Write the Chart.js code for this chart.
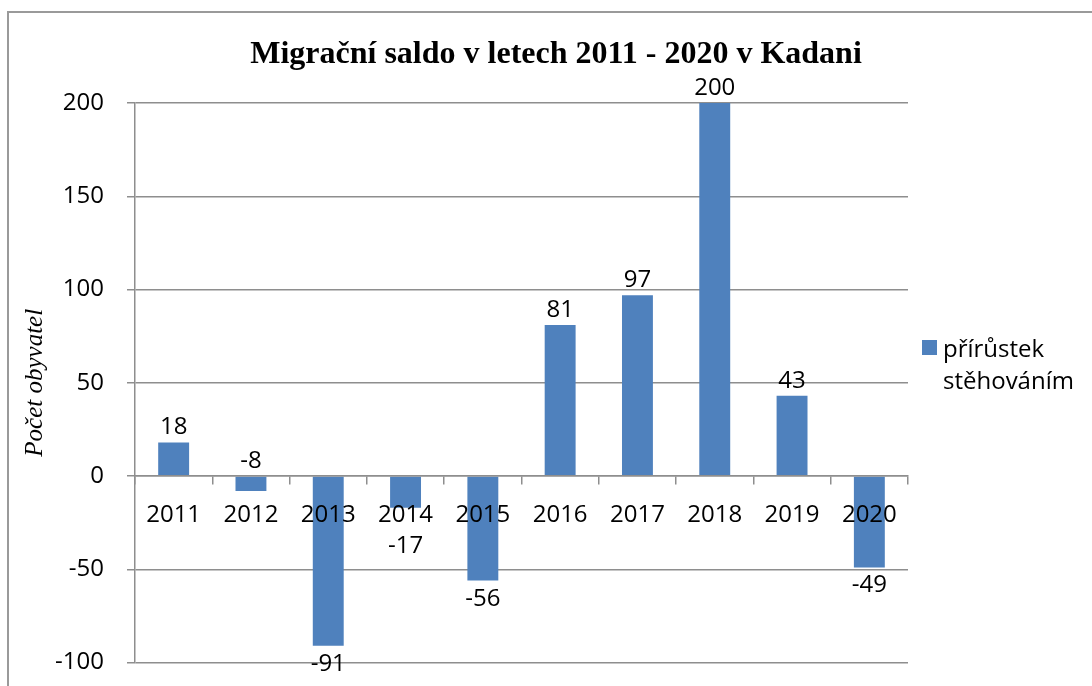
<!DOCTYPE html>
<html>
<head>
<meta charset="utf-8">
<script src="https://cdn.jsdelivr.net/npm/chart.js@4/dist/chart.umd.min.js"></script>
<style>
  html, body { margin: 0; padding: 0; background: #fff; overflow: hidden; }
  #wrap { position: relative; width: 1092px; height: 686px; overflow: hidden; }
  #frame { position: absolute; left: 7px; top: 11px; width: 1120px; height: 720px; border: 2px solid #9a9a9a; box-sizing: border-box; }
  #chart { position: absolute; left: 0; top: 0; }
  #title { position: absolute; left: 556px; top: 36px; transform: translateX(-50%); white-space: nowrap;
           font: bold 32px/32px "Liberation Serif", "Times New Roman", serif; color: #000; }
  #legend { position: absolute; left: 922px; top: 332px; font: 24px/32px "Open Sans", sans-serif; color: #000; }
  #legend .box { position: absolute; left: 0; top: 8px; width: 15px; height: 15px; background: #4f81bd; }
  #legend .txt { margin-left: 21px; }
</style>
</head>
<body>
<div id="wrap">
  <div id="frame"></div>
  <canvas id="chart" width="1092" height="700"></canvas>
  <div id="title">Migrační saldo v letech 2011 - 2020 v Kadani</div>
  <div id="legend"><span class="box"></span><div class="txt">přírůstek<br>stěhováním</div></div>
</div>
<script>
'use strict';

/* --------------------------------------------------------------------------
   DATA
   -------------------------------------------------------------------------- */
const years = ['2011', '2012', '2013', '2014', '2015', '2016', '2017', '2018', '2019', '2020'];
const saldo = [18, -8, -91, -17, -56, 81, 97, 200, 43, -49];
const seriesName = 'přírůstek stěhováním';
const axisTitle = 'Počet obyvatel';

const BLUE = '#4f81bd';
const GRID = '#8e8e8e';
const SANS = '"Open Sans", sans-serif';

Chart.defaults.color = '#000';

/* --------------------------------------------------------------------------
   VALUE LABELS — above positive bars, below negative ones
   -------------------------------------------------------------------------- */
const barLabels = {
    id: 'barLabels',
    afterDatasetsDraw(chart) {
        const { ctx } = chart;
        const y = chart.scales.y;
        const zero = y.getPixelForValue(0);
        const meta = chart.getDatasetMeta(0);
        ctx.save();
        ctx.font = '24px ' + SANS;
        ctx.fillStyle = '#000';
        ctx.textAlign = 'center';
        ctx.textBaseline = 'alphabetic';
        meta.data.forEach((bar, i) => {
            const v = saldo[i];
            const len = Math.abs(bar.y - zero);
            let ty;
            if (v >= 0 || len < 20) {
                ty = Math.min(bar.y, zero) - 8;
            } else {
                ty = Math.max(bar.y + 25, zero + 77);
            }
            ctx.fillText(String(v), bar.x, ty);
        });
        ctx.restore();
    },
};

/* --------------------------------------------------------------------------
   CHART
   -------------------------------------------------------------------------- */
const ctx = document.getElementById('chart').getContext('2d');
new Chart(ctx, {
    type: 'bar',
    data: {
        labels: years,
        datasets: [{
            label: seriesName,
            data: saldo,
            backgroundColor: BLUE,
            borderWidth: 0,
            categoryPercentage: 1,
            barPercentage: 0.4,
        }],
    },
    options: {
        responsive: false,
        animation: false,
        layout: { padding: { left: 7, top: 103, right: 184, bottom: 10 } },
        plugins: {
            legend: { display: false },
            title: { display: false },
            tooltip: { enabled: false },
        },
        scales: {
            x: {
                position: { y: 0 },
                offset: true,
                grid: { offset: true, drawOnChartArea: false, drawTicks: true, tickLength: 8, color: GRID, lineWidth: 1.5, z: 1 },
                border: { display: true, color: GRID, width: 1.5, z: 1 },
                ticks: { font: { family: SANS, size: 24 }, padding: 17, maxRotation: 0, autoSkip: false, z: 1 },
            },
            y: {
                min: -100, max: 200,
                ticks: { stepSize: 50, font: { family: SANS, size: 24 }, padding: 23 },
                grid: { color: GRID, lineWidth: 1.5, tickLength: 8 },
                border: { display: true, color: GRID, width: 1.5 },
                title: {
                    display: true,
                    text: axisTitle,
                    font: { family: '"Liberation Serif", "Times New Roman", serif', style: 'italic', size: 25 },
                    padding: { top: 13, bottom: 0 },
                },
                afterFit: s => { s.width = 128; },
            },
        },
    },
    plugins: [barLabels],
});
</script>
</body>
</html>
